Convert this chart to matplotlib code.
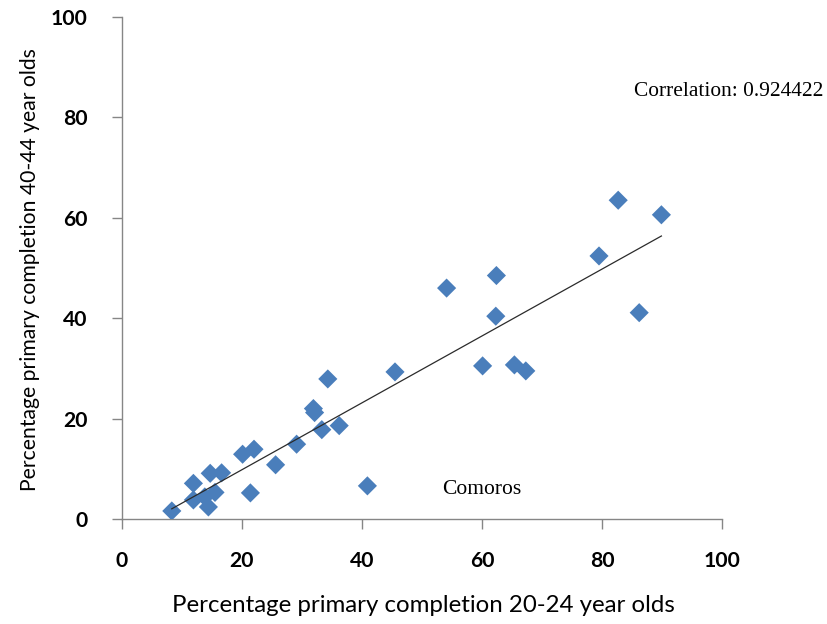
import numpy as np
import matplotlib
matplotlib.use("Agg")
import matplotlib.pyplot as plt

# Percentage primary completion, 20-24 year olds (x) and 40-44 year olds (y)
completion_20_24 = [8.3, 11.9, 11.9, 14.4, 14.7, 13.8, 15.5, 16.6, 20.1, 22.0,
                    21.4, 25.6, 29.1, 31.9, 32.1, 33.3, 36.2, 34.3, 40.9, 45.5,
                    54.1, 62.4, 62.3, 60.1, 65.4, 67.3, 79.5, 82.7, 89.9, 86.2]
completion_40_44 = [1.6, 7.1, 3.8, 2.4, 9.1, 4.4, 5.3, 9.2, 12.9, 13.9,
                    5.2, 10.8, 14.9, 22.0, 21.2, 17.8, 18.6, 27.9, 6.6, 29.3,
                    46.0, 48.5, 40.4, 30.5, 30.7, 29.5, 52.4, 63.5, 60.6, 41.1]
x_ticks = [0, 20, 40, 60, 80, 100]
y_ticks = [0, 20, 40, 60, 80, 100]
correlation_text = "Correlation: 0.924422"
annotation_label = "Comoros"
annotation_pos = (60, 5.8)

x = np.array(completion_20_24)
y = np.array(completion_40_44)

fig = plt.figure(figsize=(8.28, 6.24), dpi=100)
ax = fig.add_axes([122/828, 1-519/624, 600/828, 502/624])

ax.scatter(x, y, marker='D', s=95, color='#4A7EBB', edgecolors='none', zorder=3)

slope, intercept = np.polyfit(x, y, 1)
xs = np.array([x.min(), x.max()])
ax.plot(xs, slope*xs + intercept, color='#2b2b2b', lw=0.9, zorder=4)

ax.set_xlim(0, 100)
ax.set_ylim(0, 100)
ax.set_xticks(x_ticks)
ax.set_yticks(y_ticks)
ax.set_xticklabels([str(t) for t in x_ticks])
ax.set_yticklabels([str(t) for t in y_ticks])

for s in ['top', 'right']:
    ax.spines[s].set_visible(False)
for s in ['left', 'bottom']:
    ax.spines[s].set_color('#868686')
    ax.spines[s].set_linewidth(1.0)
ax.tick_params(axis='both', direction='out', length=7, width=1.0, color='#868686',
               labelsize=15.2)
for lab in ax.get_xticklabels() + ax.get_yticklabels():
    lab.set_fontfamily('Lato')
    lab.set_fontweight('bold')
ax.tick_params(axis='x', pad=16)
ax.tick_params(axis='y', pad=18)

ax.set_xlabel('Percentage primary completion 20-24 year olds', fontsize=17.3,
              fontfamily='Lato', va='center')
ax.set_ylabel('Percentage primary completion 40-44 year olds', fontsize=15.2,
              fontfamily='Lato', va='center')
ax.xaxis.set_label_coords(0.503, (519-605)/502)
ax.yaxis.set_label_coords((30-122)/600, 0.496)

fig.text(823/828, 1-92/624, correlation_text, fontsize=15.4,
         fontfamily='Liberation Serif', ha='right', va='center')
ax.text(annotation_pos[0], annotation_pos[1], annotation_label, fontsize=15.5,
        fontfamily='Liberation Serif', ha='center', va='center')

fig.savefig('out.png', dpi=100)
